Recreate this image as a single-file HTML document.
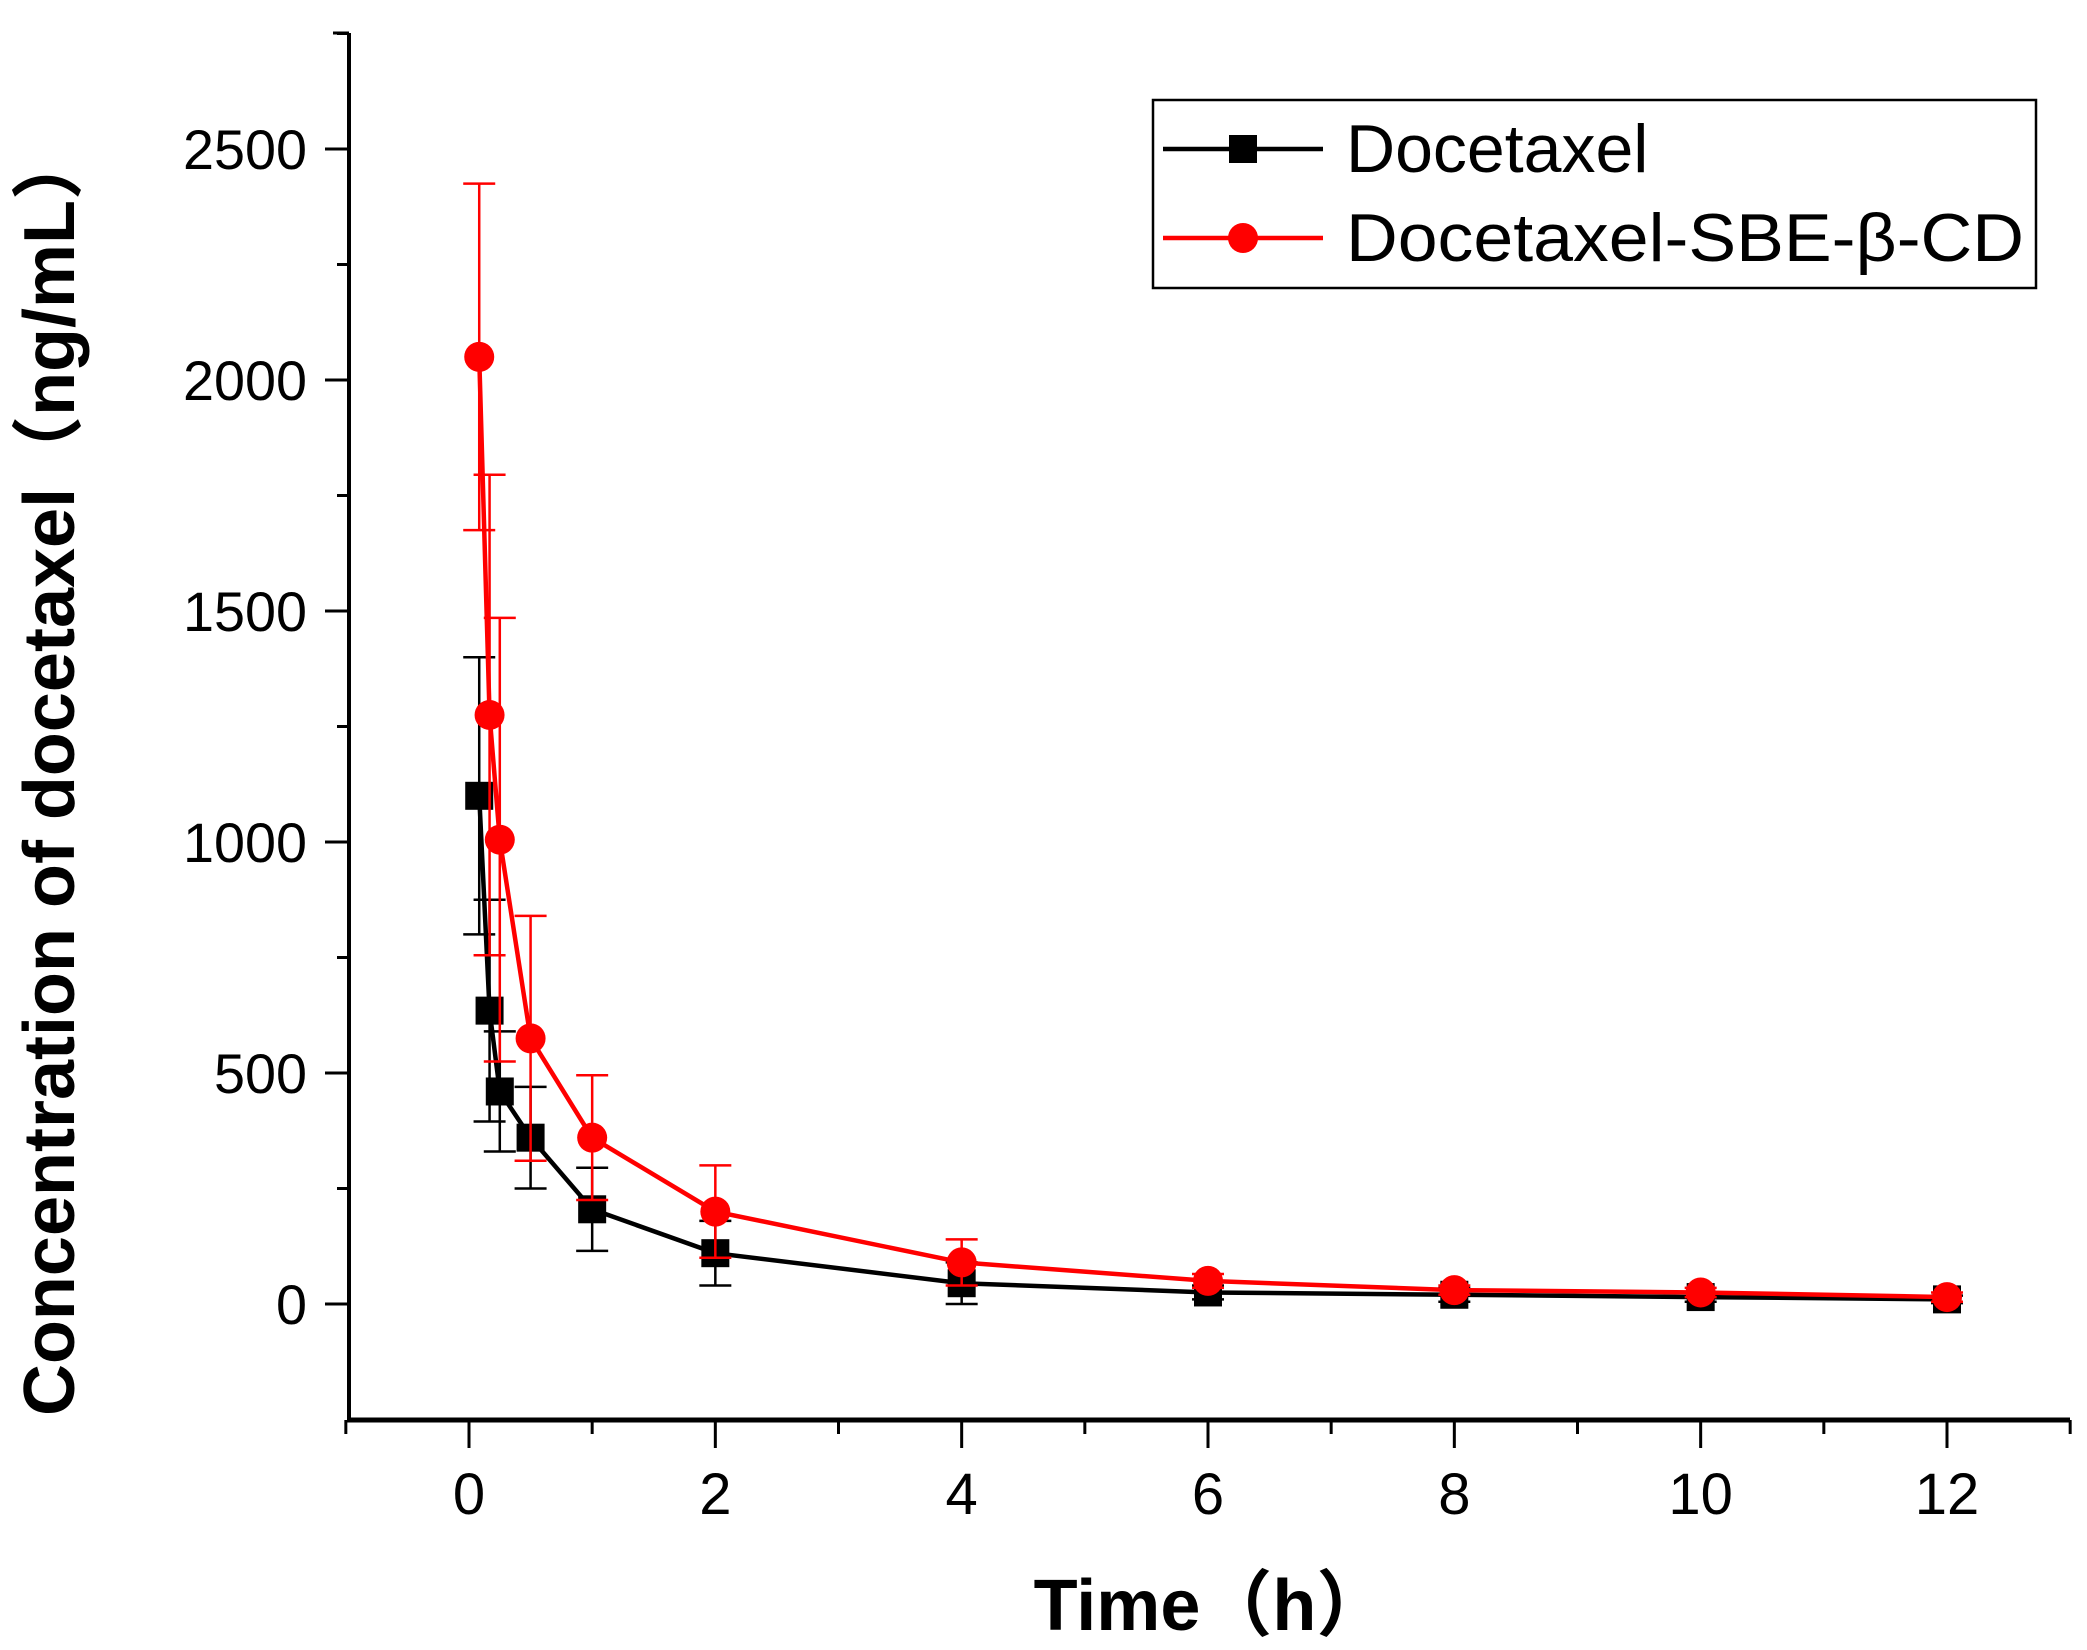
<!DOCTYPE html>
<html><head><meta charset="utf-8"><style>
html,body{margin:0;padding:0;background:#fff;}
svg{display:block;font-family:"Liberation Sans","Noto Sans CJK SC",sans-serif;}
</style></head><body>
<svg id="chart" width="2087" height="1650" viewBox="0 0 2087 1650"></svg>
<script>
const times=[0.083,0.167,0.25,0.5,1,2,4,6,8,10,12];
const doceMean=[1100,635,460,360,205,110,45,25,20,15,10];
const doceErr=[300,240,130,110,90,70,45,15,15,10,8];
const sbeMean=[2050,1275,1005,575,360,200,90,50,30,25,15];
const sbeErr=[375,520,480,265,135,100,50,15,10,10,10];
const xTicks=[0,2,4,6,8,10,12];
const yTicks=[0,500,1000,1500,2000,2500];

const NS="http://www.w3.org/2000/svg";
const svg=document.getElementById('chart');
const L=349,R=2070,T=33,B=1420;
function X(v){return 469+(v-0)*(1947-469)/12;}
function Y(v){return 1304-(v)*(1304-149)/2500;}
function mk(tag,attrs,parent){const e=document.createElementNS(NS,tag);for(const k in attrs)e.setAttribute(k,attrs[k]);(parent||svg).appendChild(e);return e;}

const ya=mk('line',{x1:L,y1:T,x2:L,y2:B+2,stroke:'#000','stroke-width':4});


const xa=mk('line',{x1:L-2,y1:B,x2:R,y2:B,stroke:'#000','stroke-width':5});


mk('line',{x1:L-16,y1:T,x2:L,y2:T,stroke:'#000','stroke-width':3});

for(let v=0;v<=2750;v+=250){
  const major=v%500===0;
  mk('line',{x1:L-(major?24:12),y1:Y(v),x2:L,y2:Y(v),stroke:'#000','stroke-width':3});
}
yTicks.forEach(v=>{
  const t=mk('text',{x:L-42,y:Y(v)+20,'text-anchor':'end','font-size':56,fill:'#000',textLength:String(v).length*31,lengthAdjust:'spacingAndGlyphs'});
  t.textContent=v;
  
  
});
for(let v=-1;v<=13;v++){
  const major=v%2===0;
  mk('line',{x1:X(v),y1:B,x2:X(v),y2:B+(major?28:14),stroke:'#000','stroke-width':3});
}
xTicks.forEach(v=>{
  const t=mk('text',{x:X(v),y:B+94,'text-anchor':'middle','font-size':58,fill:'#000'});
  t.textContent=v;
  
  
});
const yt=mk('text',{x:0,y:0,transform:'translate(74,772) rotate(-90)','text-anchor':'middle','font-size':72,'font-weight':'bold',fill:'#000'});
yt.textContent='Concentration of docetaxel（ng/mL）';


const xt=mk('text',{x:1211,y:1630,'text-anchor':'middle','font-size':72,'font-weight':'bold',fill:'#000'});
xt.textContent='Time（h）';



function series(means,errs,color,shape,name){
  const g=mk('g',{});
  
  
  times.forEach((t,i)=>{
    const x=X(t),y1=Y(means[i]+errs[i]),y2=Y(means[i]-errs[i]);
    const eb=mk('path',{d:`M${x},${y1}V${y2}M${x-16},${y1}H${x+16}M${x-16},${y2}H${x+16}`,stroke:color,'stroke-width':2.5,fill:'none'},g);
    
    
  });
  mk('polyline',{points:times.map((t,i)=>X(t)+','+Y(means[i])).join(' '),stroke:color,'stroke-width':4.5,fill:'none'},g);
  times.forEach((t,i)=>{
    const x=X(t),y=Y(means[i]);
    let m;
    if(shape==='sq')m=mk('rect',{x:x-14,y:y-14,width:28,height:28,fill:color},g);
    else m=mk('circle',{cx:x,cy:y,r:15,fill:color},g);
    
    
  });
}
series(doceMean,doceErr,'#000','sq','docetaxel');
series(sbeMean,sbeErr,'#ff0000','ci','docetaxel-sbe');

const lg=mk('g',{});


mk('rect',{x:1153,y:100,width:883,height:188,fill:'#fff',stroke:'#000','stroke-width':2.5},lg);
mk('line',{x1:1163,y1:149,x2:1323,y2:149,stroke:'#000','stroke-width':4.5},lg);
mk('rect',{x:1229,y:135,width:28,height:28,fill:'#000'},lg);
const l1=mk('text',{x:1346,y:172,'font-size':68,fill:'#000'},lg);
l1.textContent='Docetaxel';


mk('line',{x1:1163,y1:238,x2:1323,y2:238,stroke:'#ff0000','stroke-width':4.5},lg);
mk('circle',{cx:1243,cy:238,r:15,fill:'#ff0000'},lg);
const l2=mk('text',{x:1346,y:261,'font-size':68,fill:'#000',textLength:678,lengthAdjust:'spacingAndGlyphs'},lg);
l2.textContent='Docetaxel-SBE-β-CD';


</script>
</body></html>
